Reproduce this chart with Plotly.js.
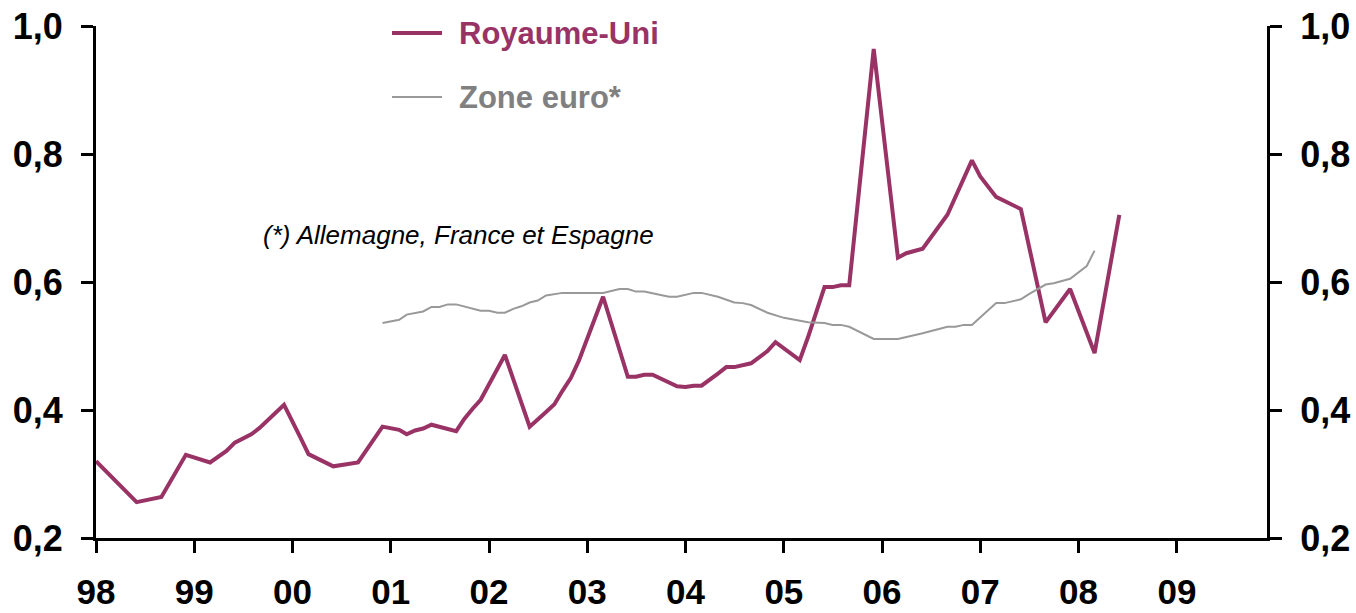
<!DOCTYPE html>
<html>
<head>
<meta charset="utf-8">
<script src="https://cdn.plot.ly/plotly-3.0.1.min.js"></script>
<style>html,body{margin:0;padding:0;background:#fff;}#chart{width:1356px;height:613px;}</style>
</head>
<body>
<div id="chart"></div>
<script>
// Royaume-Uni
const ukDates = ['1998-01-01','1998-06-01','1998-09-01','1998-12-01','1999-03-01','1999-05-01','1999-06-01','1999-08-01','1999-09-01','1999-12-01',
  '2000-02-01','2000-03-01','2000-06-01','2000-07-01','2000-08-01','2000-09-01','2000-12-01','2001-02-01','2001-03-01','2001-04-01',
  '2001-05-01','2001-06-01','2001-09-01','2001-10-01','2001-11-01','2001-12-01','2002-03-01','2002-06-01','2002-08-01','2002-09-01',
  '2002-10-01','2002-11-01','2002-12-01','2003-03-01','2003-06-01','2003-07-01','2003-08-01','2003-09-01','2003-12-01','2004-01-01',
  '2004-02-01','2004-03-01','2004-05-01','2004-06-01','2004-07-01','2004-09-01','2004-11-01','2004-12-01','2005-03-01','2005-04-01',
  '2005-06-01','2005-07-01','2005-08-01','2005-09-01','2005-12-01','2006-03-01','2006-04-01','2006-06-01','2006-09-01','2006-12-01',
  '2007-01-01','2007-03-01','2007-06-01','2007-09-01','2007-12-01','2008-03-01','2008-06-01'];
const ukValues = [0.320,0.256,0.264,0.330,0.318,0.336,0.349,0.362,0.372,0.408,
  0.356,0.331,0.312,0.314,0.315,0.318,0.374,0.369,0.362,0.368,
  0.371,0.377,0.367,0.386,0.402,0.416,0.486,0.374,0.397,0.409,
  0.430,0.450,0.477,0.577,0.452,0.452,0.455,0.455,0.437,0.436,
  0.438,0.438,0.457,0.467,0.467,0.473,0.492,0.506,0.478,0.514,
  0.592,0.592,0.595,0.595,0.964,0.638,0.645,0.652,0.705,0.790,
  0.765,0.733,0.714,0.537,0.589,0.489,0.705];

// Zone euro*
const euroDates = ['2000-12-01','2001-02-01','2001-03-01','2001-05-01','2001-06-01','2001-07-01','2001-08-01','2001-09-01','2001-12-01','2002-01-01',
  '2002-02-01','2002-03-01','2002-04-01','2002-05-01','2002-06-01','2002-07-01','2002-08-01','2002-10-01','2003-03-01','2003-05-01',
  '2003-06-01','2003-07-01','2003-08-01','2003-11-01','2003-12-01','2004-02-01','2004-03-01','2004-05-01','2004-07-01','2004-08-01',
  '2004-09-01','2004-11-01','2005-01-01','2005-04-01','2005-06-01','2005-07-01','2005-08-01','2005-09-01','2005-12-01','2006-03-01',
  '2006-06-01','2006-09-01','2006-10-01','2006-11-01','2006-12-01','2007-03-01','2007-04-01','2007-06-01','2007-07-01','2007-09-01',
  '2007-10-01','2007-12-01','2008-02-01','2008-03-01'];
const euroValues = [0.536,0.541,0.549,0.554,0.561,0.561,0.565,0.565,0.555,0.555,
  0.552,0.552,0.558,0.562,0.568,0.571,0.579,0.583,0.583,0.589,
  0.589,0.585,0.585,0.577,0.577,0.583,0.583,0.577,0.568,0.567,
  0.564,0.552,0.544,0.537,0.536,0.533,0.533,0.530,0.511,0.511,
  0.520,0.530,0.530,0.533,0.533,0.567,0.567,0.573,0.581,0.596,
  0.598,0.605,0.625,0.649];

const yearTicks = ['1998-01-01','1999-01-01','2000-01-01','2001-01-01','2002-01-01','2003-01-01','2004-01-01','2005-01-01','2006-01-01','2007-01-01','2008-01-01','2009-01-01'];
const yTicks = [0.2,0.4,0.6,0.8,1.0];
const seriesNames = ['Royaume-Uni','Zone euro*'];
const noteText = '(*) Allemagne, France et Espagne';

const ukColor = '#993366';
const euroColor = '#999999';
const FONT = 'Liberation Sans, Arial, sans-serif';

const traces = [
  {x: euroDates, y: euroValues, name: seriesNames[1], type: 'scatter', mode: 'lines', yaxis: 'y2',
   line: {color: euroColor, width: 2}, hoverinfo: 'skip'},
  {x: ukDates, y: ukValues, name: seriesNames[0], type: 'scatter', mode: 'lines',
   line: {color: ukColor, width: 4}, hoverinfo: 'skip'}
];

const axisY = {
  range: [0.2, 1.0], tickvals: yTicks, tickformat: '.1f',
  showgrid: false, zeroline: false, showline: true, linecolor: '#000', linewidth: 3,
  ticks: 'outside', ticklen: 12, tickwidth: 3, tickcolor: '#000',
  tickfont: {family: FONT, size: 36, color: '#000', weight: 'bold'},
  ticklabelstandoff: 11, fixedrange: true
};

const layout = {
  width: 1356, height: 613,
  margin: {l: 96, r: 89, t: 26, b: 75},
  paper_bgcolor: '#fff', plot_bgcolor: '#fff',
  separators: ', ',
  showlegend: false,
  font: {family: FONT},
  xaxis: {
    type: 'date', range: ['1998-01-01', '2009-12-02'],
    tickvals: yearTicks, tickformat: '%y',
    showgrid: false, zeroline: false, showline: true, linecolor: '#000', linewidth: 3,
    ticks: 'outside', ticklen: 12, tickwidth: 3, tickcolor: '#000',
    tickfont: {family: FONT, size: 35, color: '#000', weight: 'bold'},
    ticklabelstandoff: 9, fixedrange: true
  },
  yaxis: Object.assign({}, axisY, {side: 'left'}),
  yaxis2: Object.assign({}, axisY, {side: 'right', overlaying: 'y'}),
  shapes: [
    {type: 'line', xref: 'paper', yref: 'paper', x0: (392-96)/1171, x1: (442-96)/1171, y0: (538-33)/512, y1: (538-33)/512,
     line: {color: ukColor, width: 4}},
    {type: 'line', xref: 'paper', yref: 'paper', x0: (392-96)/1171, x1: (442-96)/1171, y0: (538-97)/512, y1: (538-97)/512,
     line: {color: euroColor, width: 2}}
  ],
  annotations: [
    {xref: 'paper', yref: 'paper', x: (457-96)/1171, y: (538-33)/512, xanchor: 'left', yanchor: 'middle',
     text: '<b>' + seriesNames[0] + '</b>', showarrow: false, font: {family: FONT, size: 31, color: ukColor}},
    {xref: 'paper', yref: 'paper', x: (457-96)/1171, y: (538-97)/512, xanchor: 'left', yanchor: 'middle',
     text: '<b>' + seriesNames[1] + '</b>', showarrow: false, font: {family: FONT, size: 31, color: '#808080'}},
    {xref: 'paper', yref: 'paper', x: (261-96)/1171, y: (538-235)/512, xanchor: 'left', yanchor: 'middle',
     text: '<i>' + noteText + '</i>', showarrow: false, font: {family: FONT, size: 26, color: '#000'}}
  ]
};

Plotly.newPlot('chart', traces, layout, {staticPlot: true, displayModeBar: false});
</script>
</body>
</html>
